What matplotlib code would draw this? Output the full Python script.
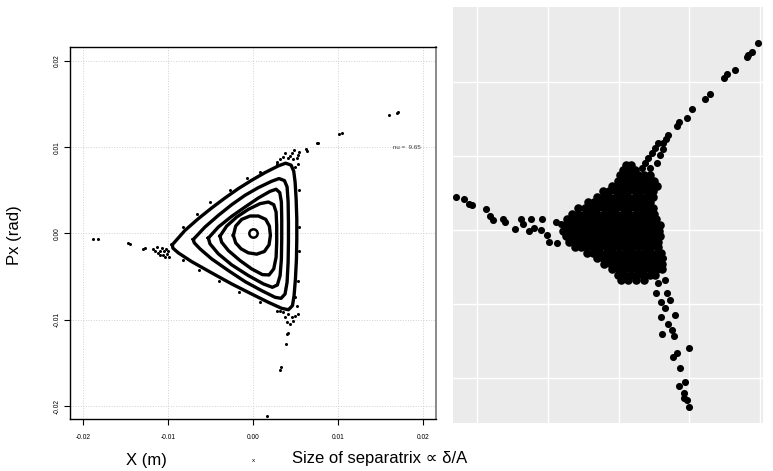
import numpy as np
import matplotlib
matplotlib.use('Agg')
import matplotlib.pyplot as plt

# ---------- left panel: Poincare section X (m) / Px (rad) ----------
# closed invariant curves, outermost first (x in m, px in rad)
curve_1 = [(-0.00949, -0.00132), (-0.00800, 0.00035), (-0.00643, 0.00171), (-0.00486, 0.00295),
           (-0.00329, 0.00411), (-0.00173, 0.00519), (-0.00016, 0.00616), (0.00141, 0.00705),
           (0.00298, 0.00783), (0.00384, 0.00814), (0.00447, 0.00791), (0.00478, 0.00721),
           (0.00494, 0.00597), (0.00506, 0.00403), (0.00514, 0.00171), (0.00514, -0.00062),
           (0.00510, -0.00295), (0.00498, -0.00527), (0.00482, -0.00721), (0.00463, -0.00837),
           (0.00416, -0.00884), (0.00337, -0.00868), (0.00180, -0.00798), (-0.00016, -0.00702),
           (-0.00251, -0.00585), (-0.00486, -0.00457), (-0.00722, -0.00326), (-0.00878, -0.00225),
           (-0.00941, -0.00171)]
curve_2 = [(-0.00702, -0.00070), (-0.00565, 0.00074), (-0.00408, 0.00209), (-0.00251, 0.00333),
           (-0.00094, 0.00442), (0.00063, 0.00531), (0.00220, 0.00605), (0.00306, 0.00636),
           (0.00369, 0.00612), (0.00400, 0.00539), (0.00412, 0.00364), (0.00416, 0.00132),
           (0.00416, -0.00101), (0.00412, -0.00333), (0.00400, -0.00566), (0.00376, -0.00702),
           (0.00329, -0.00752), (0.00259, -0.00740), (0.00102, -0.00663), (-0.00094, -0.00558),
           (-0.00290, -0.00430), (-0.00486, -0.00295), (-0.00624, -0.00178), (-0.00690, -0.00109)]
curve_3 = [(-0.00525, -0.00054), (-0.00408, 0.00074), (-0.00251, 0.00198), (-0.00094, 0.00306),
           (0.00063, 0.00411), (0.00200, 0.00488), (0.00271, 0.00512), (0.00314, 0.00473),
           (0.00333, 0.00364), (0.00337, 0.00171), (0.00337, -0.00062), (0.00333, -0.00295),
           (0.00318, -0.00488), (0.00286, -0.00597), (0.00227, -0.00624), (0.00122, -0.00585),
           (-0.00055, -0.00488), (-0.00251, -0.00364), (-0.00408, -0.00236), (-0.00506, -0.00120)]
curve_4 = [(-0.00388, -0.00031), (-0.00310, 0.00085), (-0.00192, 0.00190), (-0.00055, 0.00279),
           (0.00082, 0.00345), (0.00180, 0.00364), (0.00243, 0.00333), (0.00271, 0.00248),
           (0.00278, 0.00093), (0.00278, -0.00101), (0.00271, -0.00275), (0.00243, -0.00411),
           (0.00188, -0.00481), (0.00110, -0.00477), (-0.00016, -0.00411), (-0.00153, -0.00314),
           (-0.00290, -0.00198), (-0.00369, -0.00101)]
curve_5 = [(-0.00231, -0.00023), (-0.00204, 0.00085), (-0.00133, 0.00163), (-0.00035, 0.00202),
           (0.00063, 0.00202), (0.00149, 0.00163), (0.00192, 0.00085), (0.00204, -0.00023),
           (0.00188, -0.00132), (0.00133, -0.00209), (0.00043, -0.00240), (-0.00055, -0.00225),
           (-0.00141, -0.00178), (-0.00204, -0.00109)]
fixed_point = (0.0, 0.0)

# scattered (chaotic) particles outside the separatrix
tail_left = [(-0.01879, -0.00062), (-0.01820, -0.00070), (-0.01467, -0.00108), (-0.01447, -0.00120),
             (-0.01271, -0.00166), (-0.01291, -0.00178), (-0.01173, -0.00178), (-0.01153, -0.00209),
             (-0.01126, -0.00159), (-0.01114, -0.00224), (-0.01094, -0.00198), (-0.01074, -0.00171),
             (-0.01062, -0.00248), (-0.01047, -0.00209), (-0.01024, -0.00178), (-0.01015, -0.00236),
             (-0.00996, -0.00209), (-0.00985, -0.00276), (-0.01035, -0.00276), (-0.01094, -0.00248)]
tail_up = [(0.01592, 0.01372), (0.01691, 0.01399), (0.01702, 0.01407), (0.01004, 0.01151),
           (0.01044, 0.01166), (0.00756, 0.01043), (0.00768, 0.01050), (0.00624, 0.00973),
           (0.00632, 0.00957), (0.00545, 0.00945), (0.00533, 0.00907), (0.00514, 0.00869),
           (0.00482, 0.00965), (0.00455, 0.00927), (0.00435, 0.00895), (0.00474, 0.00857),
           (0.00415, 0.00869), (0.00376, 0.00927), (0.00356, 0.00887), (0.00318, 0.00857),
           (0.00279, 0.00829), (0.00533, 0.00810), (0.00494, 0.00771)]
tail_down = [(0.00494, -0.00741), (0.00514, -0.00837), (0.00533, -0.00934), (0.00494, -0.00953),
             (0.00455, -0.00973), (0.00415, -0.00934), (0.00376, -0.00973), (0.00396, -0.01031),
             (0.00435, -0.01050), (0.00474, -0.01012), (0.00356, -0.00915), (0.00318, -0.00903),
             (0.00415, -0.01148), (0.00396, -0.01166), (0.00388, -0.01283), (0.00326, -0.01547),
             (0.00318, -0.01585), (0.00168, -0.02116)]
edge_dots = [(-0.00820, 0.00080), (-0.00660, 0.00230), (-0.00500, 0.00360), (-0.00270, 0.00500),
             (-0.00070, 0.00640), (0.00080, 0.00710), (0.00280, 0.00810), (0.00540, 0.00500),
             (0.00540, 0.00073), (0.00540, -0.00198), (0.00530, -0.00547), (-0.00820, -0.00310),
             (-0.00630, -0.00420), (-0.00400, -0.00550), (-0.00170, -0.00680), (0.00080, -0.00800),
             (0.00280, -0.00900)]

x_ticks = [-0.02, -0.01, 0.00, 0.01, 0.02]
y_ticks = [-0.02, -0.01, 0.00, 0.01, 0.02]
tune_label = 'nu =  9.65'

# ---------- right panel: 3 arm scatter (arbitrary units) ----------
arm_up = [(1.97, 2.53), (1.88, 2.40), (1.83, 2.36), (1.81, 2.34), (1.64, 2.16), (1.53, 2.11),
          (1.49, 2.05), (1.29, 1.84), (1.22, 1.77), (1.04, 1.63), (0.97, 1.51), (0.86, 1.45),
          (0.82, 1.40), (0.70, 1.28), (0.67, 1.23), (0.63, 1.17), (0.55, 1.17), (0.52, 1.10),
          (0.63, 1.09), (0.47, 1.04), (0.59, 1.01), (0.42, 0.97), (0.54, 0.90), (0.38, 0.90),
          (0.45, 0.83), (0.33, 0.83)]
arm_left = [(-2.30, 0.44), (-2.19, 0.41), (-2.11, 0.35), (-2.07, 0.34), (-1.88, 0.28), (-1.81, 0.18),
            (-1.78, 0.13), (-1.64, 0.15), (-1.61, 0.11), (-1.46, 0.01), (-1.38, 0.15), (-1.35, 0.08),
            (-1.24, 0.14), (-1.27, -0.02), (-1.20, 0.02), (-1.08, 0.14), (-1.10, 0.00), (-1.01, -0.07),
            (-0.99, -0.16), (-0.88, 0.10), (-0.82, 0.08), (-0.87, -0.18), (-0.75, -0.09)]
arm_down = [(0.63, -0.38), (0.58, -0.45), (0.66, -0.68), (0.56, -0.72), (0.53, -0.86), (0.68, -0.85),
            (0.73, -0.95), (0.60, -0.97), (0.66, -1.05), (0.80, -1.15), (0.60, -1.18), (0.70, -1.27),
            (0.75, -1.35), (0.78, -1.43), (0.61, -1.41), (0.99, -1.59), (0.82, -1.66), (0.77, -1.72),
            (0.87, -1.87), (0.94, -2.05), (0.86, -2.11), (0.93, -2.21), (0.92, -2.27), (0.97, -2.30),
            (0.99, -2.40)]
# dense core, row by row: (y, x values)
core_rows = [
    (0.88, [0.11, 0.17]),
    (0.81, [0.06, 0.14, 0.23]),
    (0.74, [0.02, 0.11, 0.19, 0.28, 0.36, 0.44]),
    (0.66, [-0.01, 0.07, 0.16, 0.25, 0.33, 0.41, 0.50]),
    (0.59, [-0.10, 0.01, 0.10, 0.19, 0.28, 0.37, 0.46, 0.54]),
    (0.52, [-0.22, -0.13, -0.04, 0.05, 0.14, 0.23, 0.32, 0.40, 0.49]),
    (0.44, [-0.31, -0.22, -0.13, -0.04, 0.05, 0.14, 0.23, 0.32, 0.41, 0.48]),
    (0.37, [-0.43, -0.35, -0.26, -0.17, -0.08, 0.01, 0.10, 0.19, 0.28, 0.37, 0.45]),
    (0.29, [-0.57, -0.48, -0.39, -0.30, -0.21, -0.12, -0.03, 0.06, 0.15, 0.24, 0.33, 0.42, 0.49]),
    (0.22, [-0.66, -0.57, -0.48, -0.39, -0.30, -0.21, -0.12, -0.03, 0.06, 0.15, 0.24, 0.33, 0.42, 0.50]),
    (0.14, [-0.73, -0.64, -0.55, -0.46, -0.37, -0.28, -0.19, -0.10, -0.01, 0.08, 0.17, 0.26, 0.35, 0.44, 0.53]),
    (0.07, [-0.76, -0.67, -0.58, -0.49, -0.40, -0.31, -0.22, -0.13, -0.04, 0.05, 0.14, 0.23, 0.32, 0.41, 0.50, 0.58]),
    (-0.01, [-0.78, -0.69, -0.60, -0.51, -0.42, -0.33, -0.24, -0.15, -0.06, 0.03, 0.12, 0.21, 0.30, 0.39, 0.48, 0.57]),
    (-0.08, [-0.75, -0.66, -0.57, -0.48, -0.39, -0.30, -0.21, -0.12, -0.03, 0.06, 0.15, 0.24, 0.33, 0.42, 0.51, 0.58]),
    (-0.16, [-0.70, -0.61, -0.52, -0.43, -0.34, -0.25, -0.16, -0.07, 0.02, 0.11, 0.20, 0.29, 0.38, 0.47, 0.56]),
    (-0.23, [-0.62, -0.53, -0.44, -0.35, -0.26, -0.17, -0.08, 0.01, 0.10, 0.19, 0.28, 0.37, 0.46, 0.55]),
    (-0.31, [-0.45, -0.36, -0.27, -0.18, -0.09, 0.00, 0.09, 0.18, 0.27, 0.36, 0.45, 0.54, 0.60]),
    (-0.38, [-0.31, -0.22, -0.13, -0.04, 0.05, 0.14, 0.23, 0.32, 0.41, 0.50, 0.58]),
    (-0.46, [-0.20, -0.11, -0.02, 0.07, 0.16, 0.25, 0.34, 0.43, 0.52, 0.61]),
    (-0.53, [-0.09, 0.00, 0.09, 0.18, 0.27, 0.36, 0.45, 0.54, 0.62]),
    (-0.61, [-0.01, 0.08, 0.17, 0.26, 0.35, 0.44, 0.52]),
    (-0.68, [0.04, 0.14, 0.24, 0.36]),
]
grid_x = [-2, -1, 0, 1, 2]
grid_y = [-2, -1, 0, 1, 2]

LABEL_FONT = ['Liberation Sans', 'DejaVu Sans']

fig = plt.figure(figsize=(7.73, 4.71), dpi=100)
fig.patch.set_facecolor('white')

# ----- left axes -----
ax = fig.add_axes([0.0906, 0.1104, 0.4735, 0.7898])
ax.set_xlim(-0.0215, 0.0215)
ax.set_ylim(-0.0215, 0.0216)
ax.set_xticks(x_ticks)
ax.set_yticks(y_ticks)
ax.set_xticklabels(['%.2f' % v for v in x_ticks], fontsize=4.8, family=LABEL_FONT)
ax.set_yticklabels(['%.2f' % v for v in y_ticks], fontsize=4.8, family=LABEL_FONT,
                   rotation=90, va='center')
ax.tick_params(direction='out', length=4.5, width=0.8)
ax.tick_params(axis='x', pad=6)
ax.tick_params(axis='y', pad=2.5)
ax.grid(True, color='#d0d0d0', linestyle=':', linewidth=0.7)
ax.set_axisbelow(True)
for s in ['left', 'bottom', 'top']:
    ax.spines[s].set_linewidth(1.0)
    ax.spines[s].set_color('black')
ax.spines['right'].set_color('#8a8a8a')
ax.spines['right'].set_linewidth(1.4)

for curve in [curve_1, curve_2, curve_3, curve_4, curve_5]:
    pts = np.array(curve + [curve[0]])
    ax.plot(pts[:, 0], pts[:, 1], color='black', lw=2.4, solid_joinstyle='round')
ax.plot(*fixed_point, marker='o', ms=6, mfc='white', mec='black', mew=1.8)
for cloud in [tail_left, tail_up, tail_down, edge_dots]:
    pts = np.array(cloud)
    ax.plot(pts[:, 0], pts[:, 1], 'o', color='black', ms=2.2, mew=0)
ax.text(0.0197, 0.0100, tune_label, fontsize=4.5, ha='right', va='center', family=LABEL_FONT,
        color='#333333')

# ----- right axes -----
ar = fig.add_axes([0.586, 0.1019, 0.401, 0.8832])
ar.set_facecolor('#ebebeb')
ar.set_xlim(-2.34, 2.04)
ar.set_ylim(-2.61, 3.01)
for g in grid_x:
    ar.axvline(g, color='white', lw=1.0, zorder=0)
for g in grid_y:
    ar.axhline(g, color='white', lw=1.0, zorder=0)
for s in ar.spines.values():
    s.set_visible(False)
ar.set_xticks([])
ar.set_yticks([])

core = np.array([(x, y) for y, xs in core_rows for x in xs])
for cloud in [arm_up, arm_left, arm_down]:
    pts = np.array(cloud)
    ar.scatter(pts[:, 0], pts[:, 1], s=26, color='black', linewidths=0, zorder=2)
# overlapping particles in the core merge into a solid blob
ar.scatter(core[:, 0], core[:, 1], s=38, color='black', linewidths=0, zorder=2)

# ----- labels -----
fig.text(15 / 773, 1 - 235 / 471, 'Px (rad)', rotation=90, ha='center', va='center',
         fontsize=12, family=LABEL_FONT)
fig.text(146 / 773, 1 - 461 / 471, 'X (m)', ha='center', va='center',
         fontsize=12, family=LABEL_FONT)
fig.text(253 / 773, 1 - 460 / 471, 'x', ha='center', va='center',
         fontsize=4.5, family=LABEL_FONT)
fig.text(292 / 773, 1 - 459 / 471, 'Size of separatrix \u221d \u03b4/A', ha='left', va='center',
         fontsize=12, family=LABEL_FONT)

fig.savefig('out.png', dpi=100)
